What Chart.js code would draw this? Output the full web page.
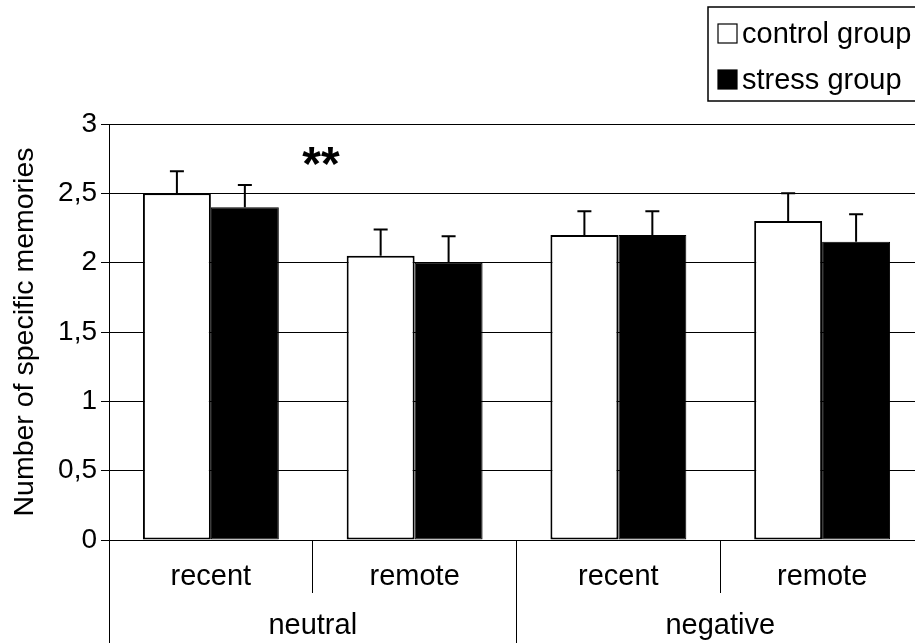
<!DOCTYPE html>
<html>
<head>
<meta charset="utf-8">
<script src="https://cdn.jsdelivr.net/npm/chart.js@4"></script>
<style>
  html, body { margin: 0; padding: 0; overflow: hidden; background: #fff; }
  #wrap { position: absolute; left: 0; top: 0; width: 932px; height: 643px; }
</style>
</head>
<body>
<div id="wrap"><canvas id="c"></canvas></div>
<script>
// ---- data ----
const subCategories = ['recent', 'remote', 'recent', 'remote'];
const groupCategories = ['neutral', 'negative'];
const seriesNames = ['control group', 'stress group'];
const controlValues = [2.5, 2.05, 2.2, 2.3];
const stressValues = [2.4, 2.0, 2.2, 2.15];
const controlErrors = [0.16, 0.19, 0.17, 0.2];
const stressErrors = [0.16, 0.19, 0.17, 0.2];
const yMin = 0, yMax = 3, yStep = 0.5;
const yTitle = 'Number of specific memories';
const significanceText = '**';

const FONT = "'Liberation Sans', Arial, Helvetica, sans-serif";
Chart.defaults.font.family = FONT;
Chart.defaults.color = '#000';

const errorBars = {
  id: 'errorBars',
  afterDatasetsDraw(chart) {
    const ctx = chart.ctx;
    const ys = chart.scales.y;
    chart.data.datasets.forEach((ds, di) => {
      const meta = chart.getDatasetMeta(di);
      meta.data.forEach((bar, i) => {
        const top = ys.getPixelForValue(ds.data[i] + ds.errors[i]);
        ctx.save();
        ctx.strokeStyle = '#000';
        ctx.lineWidth = 2;
        ctx.beginPath();
        ctx.moveTo(bar.x, bar.y);
        ctx.lineTo(bar.x, top);
        ctx.moveTo(bar.x - 7, top);
        ctx.lineTo(bar.x + 7, top);
        ctx.stroke();
        ctx.restore();
      });
    });
  }
};

const annotation = {
  id: 'sigAnnotation',
  afterDatasetsDraw(chart) {
    const ctx = chart.ctx;
    const x = chart.scales.x.getPixelForValue(0.54);
    const y = chart.scales.y.getPixelForValue(2.76);
    ctx.save();
    ctx.font = 'bold 48px ' + FONT;
    ctx.fillStyle = '#000';
    ctx.textAlign = 'center';
    ctx.textBaseline = 'middle';
    ctx.fillText(significanceText, x, y + 9);
    ctx.restore();
  }
};

const boxLegend = {
  id: 'boxLegend',
  afterDraw(chart) {
    const ctx = chart.ctx;
    ctx.save();
    ctx.strokeStyle = '#000';
    ctx.lineWidth = 1.5;
    ctx.strokeRect(708, 7, 240, 94);
    ctx.font = '29px ' + FONT;
    ctx.textBaseline = 'alphabetic';
    ctx.textAlign = 'left';
    const rows = [43, 89];
    chart.data.datasets.forEach((ds, i) => {
      const base = rows[i];
      ctx.fillStyle = ds.backgroundColor;
      ctx.fillRect(718, base - 19, 19, 19);
      ctx.lineWidth = 1.2;
      ctx.strokeStyle = '#000';
      ctx.strokeRect(718, base - 19, 19, 19);
      ctx.fillStyle = '#000';
      ctx.fillText(ds.label, 742, base);
    });
    ctx.restore();
  }
};

new Chart(document.getElementById('c'), {
  type: 'bar',
  data: {
    labels: subCategories,
    datasets: [
      { label: seriesNames[0], data: controlValues, errors: controlErrors,
        backgroundColor: '#ffffff', borderColor: '#000', borderWidth: 2, borderSkipped: false },
      { label: seriesNames[1], data: stressValues, errors: stressErrors,
        backgroundColor: '#000000', borderColor: '#000', borderWidth: 1, borderSkipped: false }
    ]
  },
  options: {
    responsive: true,
    maintainAspectRatio: false,
    animation: false,
    layout: { padding: { top: 124, right: 8, left: 0, bottom: 0 } },
    datasets: { bar: { barPercentage: 1, categoryPercentage: 0.667 } },
    plugins: { legend: { display: false }, tooltip: { enabled: false } },
    scales: {
      y: {
        min: yMin, max: yMax,
        ticks: { stepSize: yStep, padding: 4, font: { size: 28 },
          callback: v => String(v).replace('.', ',') },
        grid: { color: '#000', lineWidth: 1, tickLength: 8 },
        border: { color: '#000', width: 1 },
        title: { display: true, text: yTitle, font: { size: 28.5 }, padding: { top: 8, bottom: 0 } },
        afterFit: s => { s.width = 109; }
      },
      x: {
        offset: true,
        grid: { offset: true, drawOnChartArea: false, color: '#000', lineWidth: 1, tickLength: 53 },
        border: { color: '#000', width: 1 },
        ticks: { font: { size: 29 }, padding: -33 },
        afterFit: s => { s.height = 53; }
      },
      x2: {
        type: 'category',
        position: 'bottom',
        labels: groupCategories,
        offset: true,
        grid: { offset: true, drawOnChartArea: false, color: '#000', lineWidth: 1, tickLength: 50 },
        border: { display: false },
        ticks: { font: { size: 29 }, padding: -34 },
        afterFit: s => { s.height = 50; }
      }
    }
  },
  plugins: [errorBars, annotation, boxLegend]
});
</script>
</body>
</html>
